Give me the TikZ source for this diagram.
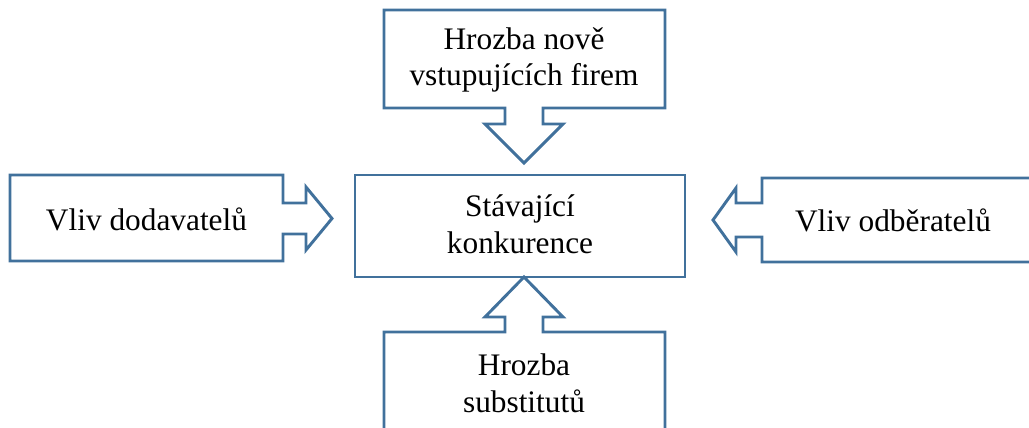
\documentclass[tikz,border=0pt]{standalone}
\usepackage{fontspec}
\setmainfont{Liberation Serif}
\definecolor{shapeblue}{HTML}{41719C}
\tikzset{
	% ------- every something
	every path/.style={
		line width=2.2pt,
	},
	every node/.style={
		font=\fontsize{23.5}{27.5}\selectfont,
	},
	% ------- custom
	callout/.style={
		draw=shapeblue,
		line join=miter,
	},
	label text/.style={
		align=center,
		inner sep=0pt,
	},
}

\begin{document}
\begin{tikzpicture}[x=0.75pt, y=-0.75pt]

	\useasboundingbox (0,0) rectangle (1029,428);

% centre box %{{{1

	\draw[callout] (355,175) rectangle (685,277);
	\node[label text] (rival) at (520,224) {Stávající\\konkurence};

% new entrants, arrow down %{{{1

	\draw[callout] (384,10) -- (665,10) -- (665,108) -- (543,108) -- (543,124)
		-- (563,124) -- (524,163) -- (485,124) -- (505,124) -- (505,108)
		-- (384,108) -- cycle;
	\node[label text] (entr) at (524,60) {Hrozba nově\\vstupujících firem};

% suppliers, arrow right %{{{1

	\draw[callout] (10,175) -- (283,175) -- (283,203) -- (306,203) -- (306,187)
		-- (332,218.5) -- (306,250) -- (306,234) -- (283,234) -- (283,261)
		-- (10,261) -- cycle;
	\node[label text] (supp) at (146.5,219) {Vliv dodavatelů};

% buyers, arrow left %{{{1

	\draw[callout] (1035,178) -- (762,178) -- (762,203) -- (736,203) -- (736,188)
		-- (713,220) -- (736,252) -- (736,237) -- (762,237) -- (762,262)
		-- (1035,262) -- cycle;
	\node[label text] (buy) at (893,220) {Vliv odběratelů};

% substitutes, arrow up %{{{1

	\draw[callout] (384,434) -- (384,332) -- (505,332) -- (505,317) -- (485,317)
		-- (524,277) -- (563,317) -- (543,317) -- (543,332) -- (665,332)
		-- (665,434);
	\node[label text] (subst) at (524,383) {Hrozba\\substitutů};

% closing %{{{1

\end{tikzpicture}
\end{document}
